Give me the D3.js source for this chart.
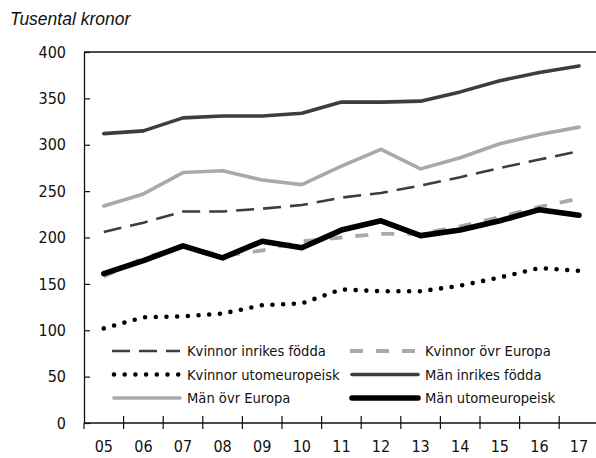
<!DOCTYPE html>
<html>
<head>
<meta charset="utf-8">
<script src="https://cdn.jsdelivr.net/npm/d3@7"></script>
<style>
  body { margin: 0; background: #fff; }
  svg text { font-family: "Liberation Sans Narrow", "DejaVu Sans Condensed", "Liberation Sans", sans-serif; fill: #111; }
</style>
</head>
<body>
<div id="chart"></div>
<script>
// years (x categories)
var years = ["05","06","07","08","09","10","11","12","13","14","15","16","17"];
var yTicks = [0, 50, 100, 150, 200, 250, 300, 350, 400];

// series values, tusental kronor
var kvinnorInrikes = [206, 216, 228, 228, 231, 235, 243, 248, 256, 265, 275, 284, 293];
var kvinnorOvrEuropa = [158, 178, 190, 180, 186, 196, 200, 204, 204, 212, 222, 233, 242];
var kvinnorUtomeuropeisk = [102, 114, 115, 118, 127, 129, 144, 142, 142, 148, 157, 167, 164];
var manInrikes = [312, 315, 329, 331, 331, 334, 346, 346, 347, 357, 369, 378, 385];
var manOvrEuropa = [234, 247, 270, 272, 262, 257, 277, 295, 274, 286, 301, 311, 319];
var manUtomeuropeisk = [161, 175, 191, 178, 196, 189, 208, 218, 202, 208, 218, 230, 224];

var series = [
  { name: "Kvinnor inrikes födda", values: kvinnorInrikes, color: "#3d3d3d", width: 2.6, dash: "18,9", cap: "butt" },
  { name: "Kvinnor övr Europa", values: kvinnorOvrEuropa, color: "#a9a9a9", width: 3.8, dash: "13,13", cap: "butt" },
  { name: "Kvinnor utomeuropeisk", values: kvinnorUtomeuropeisk, color: "#000", width: 4.6, dash: "0,10.7", cap: "round" },
  { name: "Män inrikes födda", values: manInrikes, color: "#3d3d3d", width: 3.6, dash: null, cap: "round" },
  { name: "Män övr Europa", values: manOvrEuropa, color: "#a9a9a9", width: 3.6, dash: null, cap: "round" },
  { name: "Män utomeuropeisk", values: manUtomeuropeisk, color: "#000", width: 5.6, dash: null, cap: "round" }
];

var W = 596, H = 458;
var plotLeft = 84, plotTop = 52, plotBottom = 423, plotRight = 598.8;

var svg = d3.select("#chart").append("svg")
    .attr("width", W)
    .attr("height", H);

// unit label
svg.append("text")
    .attr("x", 10)
    .attr("y", 25)
    .style("font-family", "'Liberation Sans', Arial, sans-serif")
    .style("font-style", "italic")
    .attr("font-size", "17.5px")
    .text("Tusental kronor");

var x = d3.scaleBand()
    .domain(years)
    .range([plotLeft, plotRight])
    .padding(0);

var y = d3.scaleLinear()
    .domain([0, 400])
    .range([plotBottom, plotTop]);

// top frame line
svg.append("line")
    .attr("x1", plotLeft).attr("x2", W)
    .attr("y1", y(400)).attr("y2", y(400))
    .attr("stroke", "#111").attr("stroke-width", 1.3);

// y axis
var yAxis = svg.append("g")
    .attr("transform", "translate(" + plotLeft + ",0)")
    .call(d3.axisLeft(y).tickValues(yTicks).tickSizeInner(-6).tickSizeOuter(0).tickPadding(18));
yAxis.select(".domain").attr("stroke", "#111").attr("stroke-width", 1.3);
yAxis.selectAll(".tick line").attr("stroke", "#111").attr("stroke-width", 1.2);
yAxis.selectAll(".tick text").attr("font-size", "16px");

// x axis (labels at band centers)
var xAxis = svg.append("g")
    .attr("transform", "translate(0," + plotBottom + ")")
    .call(d3.axisBottom(x).tickSize(0).tickPadding(18));
xAxis.select(".domain").remove();
xAxis.selectAll(".tick text").attr("font-size", "16px");

svg.append("line")
    .attr("x1", plotLeft).attr("x2", W)
    .attr("y1", plotBottom).attr("y2", plotBottom)
    .attr("stroke", "#111").attr("stroke-width", 1.3);

// x ticks at the band boundaries, crossing the axis
svg.selectAll(".xb")
    .data(years)
    .enter().append("line")
    .attr("class", "xb")
    .attr("x1", d => x(d)).attr("x2", d => x(d))
    .attr("y1", (d, i) => i == 0 ? plotBottom : plotBottom - 7)
    .attr("y2", plotBottom + 6)
    .attr("stroke", "#111").attr("stroke-width", 1.2);

var line = d3.line()
    .x((d, i) => x(years[i]) + x.bandwidth() / 2)
    .y(d => y(d));

series.forEach(function(s) {
  svg.append("path")
    .datum(s.values)
    .attr("d", line)
    .attr("fill", "none")
    .attr("stroke", s.color)
    .attr("stroke-width", s.width)
    .attr("stroke-dasharray", s.dash)
    .attr("stroke-linecap", s.cap)
    .attr("stroke-linejoin", "round");
});

// legend, two columns
var legX = [112, 350], legY = [351, 374.5, 398];
series.forEach(function(s, i) {
  var lx = legX[i % 2], ly = legY[Math.floor(i / 2)];
  svg.append("line")
    .attr("x1", lx + (s.cap == "round" ? 2 : 0)).attr("x2", lx + 68)
    .attr("y1", ly).attr("y2", ly)
    .attr("stroke", s.color)
    .attr("stroke-width", s.width)
    .attr("stroke-dasharray", s.dash)
    .attr("stroke-linecap", s.cap);
  svg.append("text")
    .attr("x", lx + 75)
    .attr("y", ly)
    .attr("dy", "0.35em")
    .attr("font-size", "14.6px")
    .text(s.name);
});
</script>
</body>
</html>
